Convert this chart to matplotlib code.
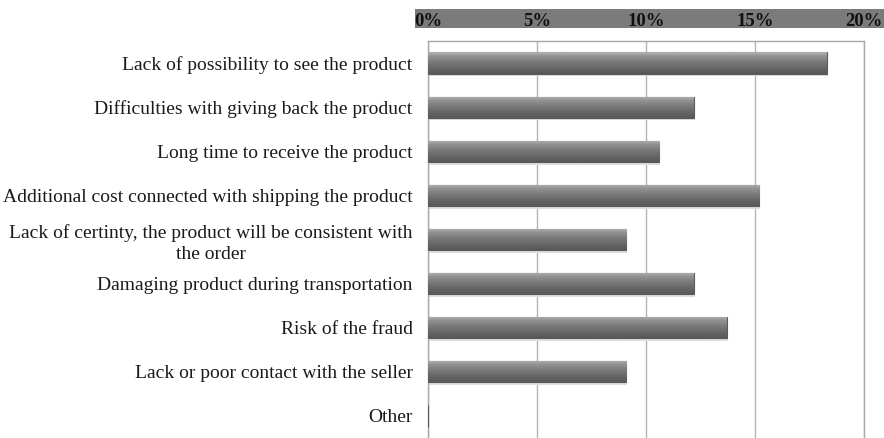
import matplotlib
matplotlib.use("Agg")
import matplotlib.pyplot as plt
import numpy as np
from matplotlib.patches import Rectangle

categories = [
    "Lack of possibility to see the product",
    "Difficulties with giving back the product",
    "Long time to receive the product",
    "Additional cost connected with shipping the product",
    "Lack of certinty, the product will be consistent with\nthe order",
    "Damaging product during transportation",
    "Risk of the fraud",
    "Lack or poor contact with the seller",
    "Other",
]
shares = [18.3, 12.2, 10.6, 15.2, 9.1, 12.2, 13.7, 9.1, 0.0]
xticks = [0, 5, 10, 15, 20]
xtick_labels = ["0%", "5%", "10%", "15%", "20%"]

W, H = 884, 438
fig = plt.figure(figsize=(W / 100, H / 100), dpi=100)
fig.patch.set_facecolor("white")

# grey band behind the percentage scale
fig.add_artist(Rectangle((415 / W, 1 - 28 / H), (W - 415) / W, 19 / H,
                         transform=fig.transFigure, facecolor="#7b7b7b",
                         edgecolor="none", zorder=0))

ax = fig.add_axes([428 / W, 0.0, (864 - 428) / W, 1 - 41 / H])
y = np.arange(len(categories))
bars = ax.barh(y, shares, height=0.48, color="#6f6f72", edgecolor="#5a5a5c",
               linewidth=0.8, zorder=3)

# vertical shading on each bar
grad = np.array([0.68, 0.62, 0.57, 0.54, 0.51, 0.48, 0.45, 0.43, 0.41, 0.39,
                 0.37, 0.35])[:, None]
for b in bars:
    if b.get_width() <= 0:
        continue
    x0, y0 = b.get_x(), b.get_y()
    im = ax.imshow(grad, cmap="gray", vmin=0, vmax=1, aspect="auto",
                   extent=(x0, x0 + b.get_width(), y0 + b.get_height(), y0),
                   zorder=3.5, interpolation="bilinear")
    im.set_clip_path(b)
    # soft shadow under the bar
    ax.add_patch(Rectangle((x0, y0 + b.get_height()), b.get_width() + 0.05, 0.06,
                           facecolor="#dedede", edgecolor="none", zorder=2))

ax.set_xlim(0, 20)
ax.set_ylim(8.5, -0.5)
ax.set_yticks(y)
ax.set_yticklabels(categories, fontfamily="Liberation Serif", fontsize=14,
                   color="#1a1a1a", multialignment="center", linespacing=1.3)
ax.xaxis.tick_top()
ax.set_xticks(xticks)
ax.set_xticklabels(xtick_labels, fontfamily="Liberation Serif", fontsize=13.5,
                   fontweight="bold", color="#111111")
ax.tick_params(axis="x", length=0, pad=8)
ax.tick_params(axis="y", length=0, pad=11)
ax.grid(axis="x", color="#b4b4b4", linewidth=1.0, zorder=0)
ax.set_axisbelow(True)
for side in ("left", "top", "right"):
    ax.spines[side].set_color("#a8a8a8")
    ax.spines[side].set_linewidth(1.0)
ax.spines["bottom"].set_visible(False)

fig.savefig("out.png", dpi=100)
